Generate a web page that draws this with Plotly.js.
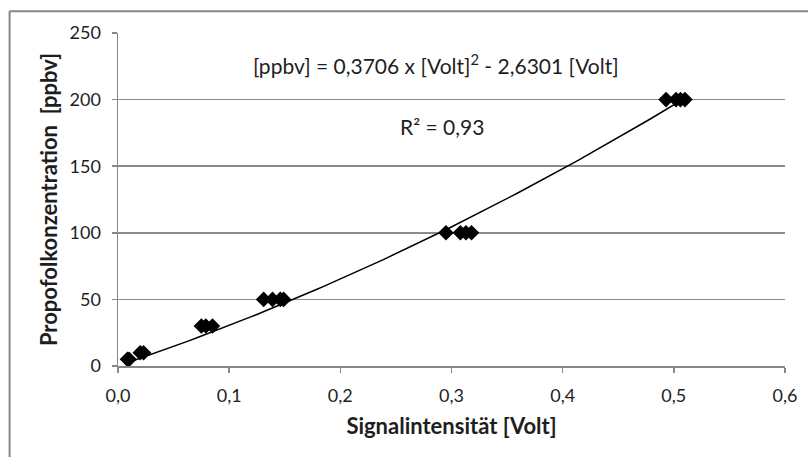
<!DOCTYPE html>
<html>
<head>
<meta charset="utf-8">
<script src="https://cdn.plot.ly/plotly-3.0.1.min.js"></script>
<style>
  html, body { margin: 0; padding: 0; background: #fff; }
  #chart { width: 808px; height: 457px; }
</style>
</head>
<body>
<div id="chart"></div>
<script>
// Data
const signalVolt = [0.0085, 0.010, 0.020, 0.023, 0.075, 0.079, 0.085, 0.131, 0.139, 0.146, 0.149, 0.295, 0.308, 0.313, 0.318, 0.493, 0.502, 0.506, 0.510];
const concPpbv   = [5, 5, 10, 10, 30, 30, 30, 50, 50, 50, 50, 100, 100, 100, 100, 200, 200, 200, 200];
const xTickVals  = [0, 0.1, 0.2, 0.3, 0.4, 0.5, 0.6];
const yTickVals  = [0, 50, 100, 150, 200, 250];
const equationText = "[ppbv] = 0,3706 x [Volt]<sup>2</sup> - 2,6301 [Volt]";
const r2Text = "R² = 0,93";

// Least-squares trendline y = a x^2 + b x (through origin), from the data
let s4 = 0, s3 = 0, s2 = 0, sx2y = 0, sxy = 0;
for (let i = 0; i < signalVolt.length; i++) {
  const x = signalVolt[i], y = concPpbv[i];
  s4 += x ** 4; s3 += x ** 3; s2 += x ** 2; sx2y += x * x * y; sxy += x * y;
}
const det = s4 * s2 - s3 * s3;
const a = (sx2y * s2 - sxy * s3) / det;
const b = (s4 * sxy - s3 * sx2y) / det;
const xMin = Math.min(...signalVolt), xMax = Math.max(...signalVolt);
const trendX = [], trendY = [];
for (let i = 0; i <= 100; i++) {
  const x = xMin + (xMax - xMin) * i / 100;
  trendX.push(x); trendY.push(a * x * x + b * x);
}

const fontFam = "Lato, 'Open Sans', sans-serif";
const txtColor = '#1e1e1e';
const traces = [
  { x: trendX, y: trendY, mode: 'lines', type: 'scatter',
    line: { color: '#000', width: 1.5 }, hoverinfo: 'skip', showlegend: false },
  { x: signalVolt, y: concPpbv, mode: 'markers', type: 'scatter',
    marker: { symbol: 'diamond', size: 12, color: '#000' }, showlegend: false }
];

const L = 117.5, R = 785, T = 33.3, B = 366.5;
const pw = R - L, ph = B - T;
const px = v => (v - L) / pw;
const py = v => (B - v) / ph;

const layout = {
  width: 808, height: 457,
  margin: { l: L, r: 808 - R, t: T, b: 457 - B, pad: 0 },
  separators: ', ',
  paper_bgcolor: '#fff', plot_bgcolor: '#fff',
  font: { family: fontFam, size: 16, color: txtColor },
  xaxis: {
    range: [0, 0.6], tickvals: xTickVals, tickformat: '.1f',
    showgrid: false, zeroline: false,
    showline: true, linecolor: '#868686', linewidth: 1.5,
    ticks: 'outside', ticklen: 5, tickcolor: '#868686', tickwidth: 1.5,
    ticklabelstandoff: 8,
    tickfont: { family: fontFam, size: 18, color: txtColor },
    title: { text: '<b>Signalintensität [Volt]</b>', standoff: 13,
             font: { family: fontFam, size: 22, color: txtColor } }
  },
  yaxis: {
    range: [0, 250], tickvals: yTickVals,
    showgrid: true, gridcolor: '#8c8c8c', gridwidth: 1.5, zeroline: false,
    showline: true, linecolor: '#868686', linewidth: 1.5,
    ticks: 'outside', ticklen: 5, tickcolor: '#868686', tickwidth: 1.5,
    ticklabelstandoff: 7,
    tickfont: { family: fontFam, size: 18, color: txtColor },
    title: { text: '<b>Propofolkonzentration  [ppbv]</b>', standoff: 6,
             font: { family: fontFam, size: 22, color: txtColor } }
  },
  annotations: [
    { x: 0.286, y: 227, xref: 'x', yref: 'y', text: equationText, showarrow: false,
      font: { family: fontFam, size: 21, color: txtColor } },
    { x: 0.291, y: 180, xref: 'x', yref: 'y', text: r2Text, showarrow: false,
      font: { family: fontFam, size: 21, color: txtColor } }
  ],
  shapes: [
    { type: 'line', xref: 'paper', yref: 'paper', x0: px(9), x1: px(820), y0: py(11.5), y1: py(11.5),
      line: { color: '#868686', width: 2 } },
    { type: 'line', xref: 'paper', yref: 'paper', x0: px(9), x1: px(9), y0: py(11.5), y1: py(470),
      line: { color: '#868686', width: 2 } }
  ]
};

Plotly.newPlot('chart', traces, layout, { displayModeBar: false, staticPlot: true });
</script>
</body>
</html>
